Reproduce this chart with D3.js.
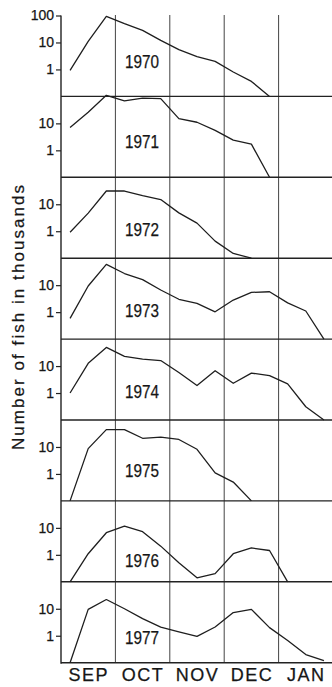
<!DOCTYPE html>
<html>
<head>
<meta charset="utf-8">
<script src="https://cdn.jsdelivr.net/npm/d3@7/dist/d3.min.js"></script>
<style>
  html, body { margin: 0; padding: 0; background: #fff; }
  svg { display: block; }
  text { font-family: Arial, "Liberation Sans", Helvetica, sans-serif; fill: #161616; stroke: #161616; stroke-width: 0.25px; }
</style>
</head>
<body>
<svg id="chart" width="332" height="687"></svg>
<script>
// Seasonal catch, sampled every ten days from early September (thousands of fish)
const years = ["1970", "1971", "1972", "1973", "1974", "1975", "1976", "1977"];
const catch1970 = [0.92, 11, 93, 50, 28, 12, 5.4, 3.0, 2.0, 0.8, 0.36, 0.1];
const catch1971 = [7, 26, 110, 68, 87, 83, 15, 11, 5.5, 2.4, 1.7, 0.1];
const catch1972 = [0.92, 4.7, 31, 31, 21, 15, 4.8, 2.0, 0.43, 0.15, 0.1];
const catch1973 = [0.59, 9.3, 59, 27, 16, 6.6, 3.0, 2.1, 1.03, 2.8, 5.4, 5.7, 2.2, 1.1, 0.1];
const catch1974 = [1.0, 12.6, 49, 23, 18, 16, 5.8, 1.9, 6.7, 2.3, 5.5, 4.4, 2.2, 0.31, 0.1];
const catch1975 = [0.1, 8.7, 44, 44, 21, 23, 19, 8.2, 1.1, 0.5, 0.1];
const catch1976 = [0.1, 1.1, 6.6, 11.7, 7.2, 2.1, 0.51, 0.14, 0.2, 1.1, 1.8, 1.45, 0.1];
const catch1977 = [0.1, 9.5, 22, 10, 4.3, 2.1, 1.4, 0.95, 2.1, 7.2, 9.5, 2.0, 0.67, 0.2, 0.12];
const seasons = [catch1970, catch1971, catch1972, catch1973, catch1974, catch1975, catch1976, catch1977];
const months = ["SEP", "OCT", "NOV", "DEC", "JAN"];
const tickValuesFirst = [100, 10, 1];
const tickValuesRest = [10, 1];

// Layout
const W = 332, H = 687;
const plotLeft = 61, plotRight = 333;
const plotTop = 15.5;
const panelH = 80.9;
const yearLabelLift = [28, 29, 22, 22, 22.5, 23.5, 15, 19];

const svg = d3.select("#chart");

// x: months since 1 September
const x = d3.scaleLinear().domain([0, 5]).range([plotLeft, plotRight]);
const sampleT = k => (k + 0.5) / 3;

const panelBottom = i => plotTop + panelH * (i + 1);
const bottomY = panelBottom(years.length - 1);

// Month grid lines
svg.append("g")
  .selectAll("line")
  .data(d3.range(1, months.length))
  .join("line")
  .attr("x1", d => x(d)).attr("x2", d => x(d))
  .attr("y1", plotTop - 0.5).attr("y2", bottomY)
  .attr("stroke", "#444").attr("stroke-width", 1);

// Left axis spine
svg.append("line")
  .attr("x1", plotLeft).attr("x2", plotLeft)
  .attr("y1", plotTop).attr("y2", bottomY + 1)
  .attr("stroke", "#222").attr("stroke-width", 1.4);

const line = d3.line().curve(d3.curveLinear);

years.forEach((yr, i) => {
  const b = panelBottom(i);
  const y = d3.scaleLog().domain([0.1, 100]).range([b, b - panelH]);
  const g = svg.append("g");

  // panel base line
  g.append("line")
    .attr("x1", plotLeft).attr("x2", W)
    .attr("y1", b).attr("y2", b)
    .attr("stroke", "#222").attr("stroke-width", 1.4);

  // log ticks
  const ax = d3.axisLeft(y)
    .tickValues(i === 0 ? tickValuesFirst : tickValuesRest)
    .tickFormat(d3.format("d"))
    .tickSize(5)
    .tickPadding(2);
  const axG = g.append("g").attr("transform", `translate(${plotLeft},0)`).call(ax);
  axG.select(".domain").remove();
  axG.selectAll(".tick line").attr("stroke", "#222").attr("stroke-width", 1.2);
  axG.selectAll(".tick text")
    .attr("font-size", 14)
    .attr("fill", "#161616")
    .style("font-family", "Arial, 'Liberation Sans', sans-serif");

  // season curve
  const pts = seasons[i].map((v, k) => [x(sampleT(k)), y(v)]);
  g.append("path")
    .attr("d", line(pts))
    .attr("fill", "none")
    .attr("stroke", "#1e1e1e")
    .attr("stroke-width", 1.3)
    .attr("stroke-linejoin", "round");

  // year label
  g.append("text")
    .attr("x", 142)
    .attr("y", b - yearLabelLift[i])
    .attr("text-anchor", "middle")
    .attr("font-size", 18)
    .attr("textLength", 34)
    .attr("lengthAdjust", "spacingAndGlyphs")
    .text(yr);
});

// Month labels centred in each month
const mAx = d3.axisBottom(x)
  .tickValues(d3.range(months.length).map(m => m + 0.5))
  .tickFormat((d, idx) => months[idx])
  .tickSize(0)
  .tickPadding(6);
const mG = svg.append("g").attr("transform", `translate(0,${bottomY})`).call(mAx);
mG.select(".domain").remove();
mG.selectAll(".tick text")
  .attr("font-size", 18)
  .attr("fill", "#161616")
  .attr("letter-spacing", 1.5)
  .style("font-family", "Arial, 'Liberation Sans', sans-serif");

// Y-axis title
svg.append("text")
  .attr("transform", `translate(24,317.5) rotate(-90)`)
  .attr("text-anchor", "middle")
  .attr("font-size", 17)
  .attr("textLength", 265)
  .attr("lengthAdjust", "spacing")
  .text("Number of fish in thousands");
</script>
</body>
</html>
